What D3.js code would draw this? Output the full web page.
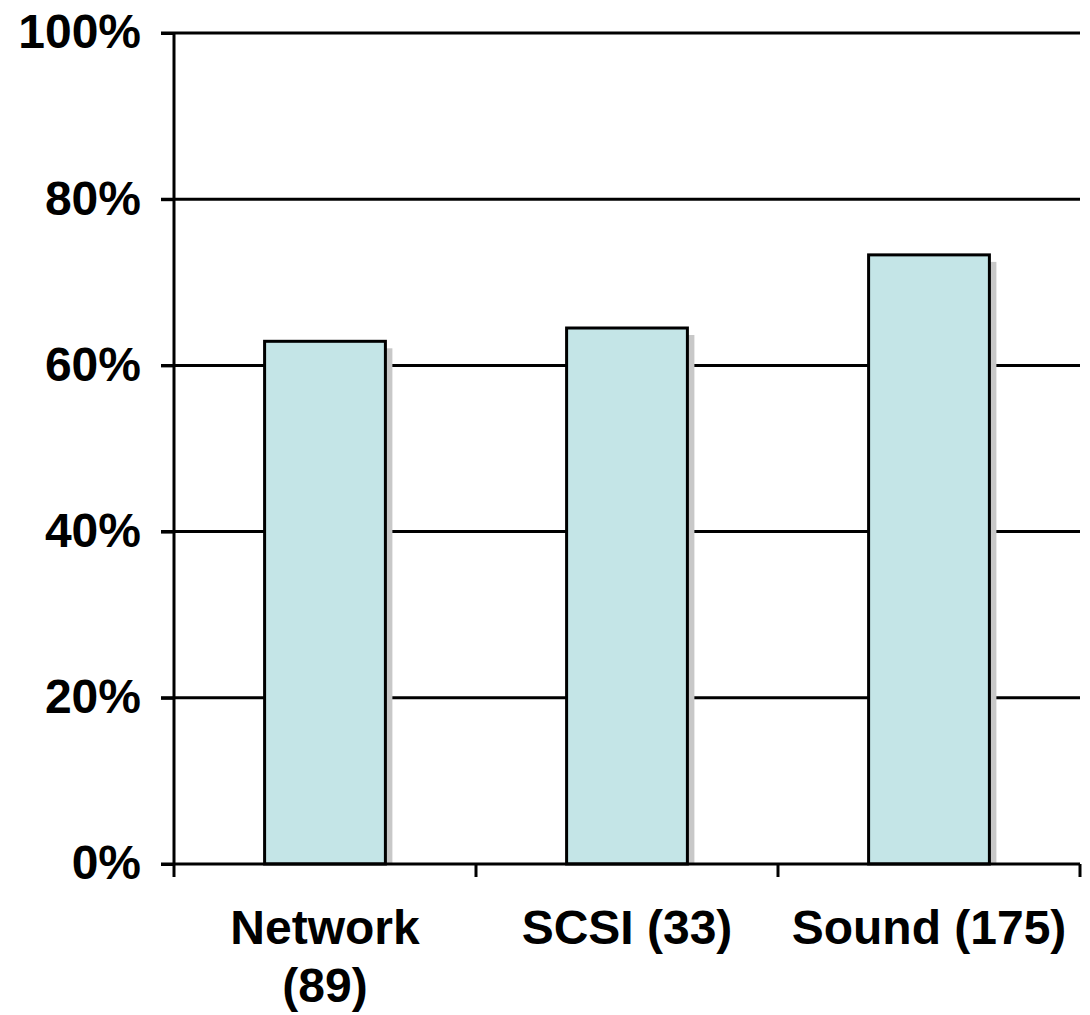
<!DOCTYPE html>
<html>
<head>
<meta charset="utf-8">
<script src="https://cdn.jsdelivr.net/npm/d3@7"></script>
<style>
  body { margin: 0; background: #fff; }
  text { font-family: "Liberation Sans", Arial, sans-serif; font-weight: bold; fill: #000; }
</style>
</head>
<body>
<div id="chart"></div>
<script>
// data
var categories = ['Network (89)', 'SCSI (33)', 'Sound (175)'];
var categoryLines = [['Network', '(89)'], ['SCSI (33)'], ['Sound (175)']];
var values = [62.9, 64.5, 73.3];
var yTicks = [0, 20, 40, 60, 80, 100];

var width = 1090, height = 1015,
    margin = { top: 33, right: 10, bottom: 151, left: 174 };

var svg = d3.select('#chart').append('svg')
    .attr('width', width)
    .attr('height', height);

var x = d3.scaleBand()
    .domain(categories)
    .range([margin.left, width - margin.right])
    .paddingInner(0.6)
    .paddingOuter(0.3);

var y = d3.scaleLinear()
    .domain([0, 100])
    .range([height - margin.bottom, margin.top]);

// gridlines
svg.append('g')
    .selectAll('line')
    .data(yTicks.slice(1))
    .enter().append('line')
    .attr('x1', margin.left - 13)
    .attr('x2', width - margin.right)
    .attr('y1', function(d) { return y(d); })
    .attr('y2', function(d) { return y(d); })
    .attr('stroke', '#000')
    .attr('stroke-width', 3);

// bars with shadow
var bars = svg.append('g').selectAll('g.bar')
    .data(values)
    .enter().append('g')
    .attr('class', 'bar');

bars.append('rect')
    .attr('x', function(d, i) { return x(categories[i]) + 7; })
    .attr('y', function(d) { return y(d) + 7; })
    .attr('width', x.bandwidth())
    .attr('height', function(d) { return y(0) - y(d) - 7; })
    .attr('fill', '#c8c8c8');

bars.append('rect')
    .attr('x', function(d, i) { return x(categories[i]); })
    .attr('y', function(d) { return y(d); })
    .attr('width', x.bandwidth())
    .attr('height', function(d) { return y(0) - y(d); })
    .attr('fill', '#c4e5e7')
    .attr('stroke', '#000')
    .attr('stroke-width', 3);

// y axis
var yAxis = svg.append('g')
    .attr('transform', 'translate(' + margin.left + ',0)')
    .call(d3.axisLeft(y).tickValues(yTicks).tickSize(13).tickPadding(20)
        .tickFormat(function(d) { return d + '%'; }));
yAxis.selectAll('line, path').attr('stroke', '#000').attr('stroke-width', 3);
yAxis.select('path').attr('d', 'M0,' + y(0) + 'V' + y(100));
yAxis.selectAll('text').style('font-size', '48px').attr('dy', '0.31em');

// x axis
var bandEdges = [margin.left].concat(categories.map(function(c) {
    return x(c) - x.step() * x.paddingInner() / 2 + x.step();
}));
var xAxis = svg.append('g');
xAxis.append('line')
    .attr('x1', margin.left - 13)
    .attr('x2', width - margin.right)
    .attr('y1', y(0)).attr('y2', y(0))
    .attr('stroke', '#000').attr('stroke-width', 3);
xAxis.selectAll('line.tick')
    .data(bandEdges)
    .enter().append('line')
    .attr('class', 'tick')
    .attr('x1', function(d) { return d; })
    .attr('x2', function(d) { return d; })
    .attr('y1', y(0)).attr('y2', y(0) + 13)
    .attr('stroke', '#000').attr('stroke-width', 3);

xAxis.selectAll('text')
    .data(categoryLines)
    .enter().append('text')
    .attr('x', function(d, i) { return x(categories[i]) + x.bandwidth() / 2; })
    .attr('y', y(0) + 80)
    .attr('text-anchor', 'middle')
    .style('font-size', '48px')
    .each(function(lines) {
        var t = d3.select(this);
        lines.forEach(function(l, j) {
            t.append('tspan')
                .attr('x', t.attr('x'))
                .attr('dy', j === 0 ? 0 : 58)
                .text(l);
        });
    });
</script>
</body>
</html>
